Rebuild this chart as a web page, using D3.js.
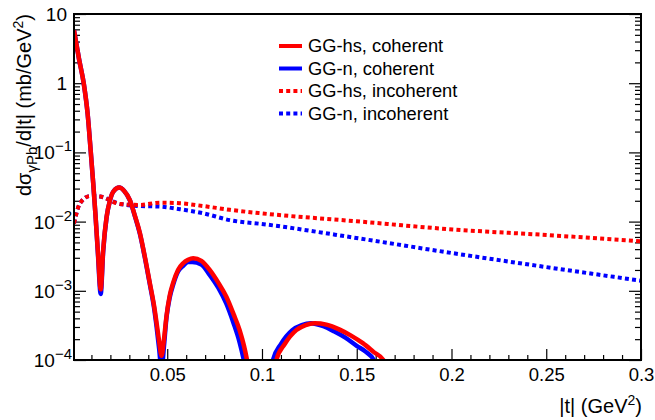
<!DOCTYPE html>
<html>
<head>
<meta charset="utf-8">
<script src="https://cdn.jsdelivr.net/npm/d3@7"></script>
<style>
  body { margin: 0; background: #fff; }
  svg { display: block; }
  text { font-family: "Liberation Sans", Arial, Helvetica, sans-serif; fill: #000; }
</style>
</head>
<body>
<svg id="chart" width="655" height="420"></svg>
<script>
// |t| (GeV^2), dsigma/d|t| (mb/GeV^2)
const redCoherent = [
  [0.0008, 5.8], [0.0035, 2.2], [0.006, 0.97], [0.008, 0.36], [0.0096, 0.106],
  [0.0109, 0.037], [0.0121, 0.0129], [0.0134, 0.0037], [0.0149, 0.00105],
  [0.0162, 0.0039], [0.018, 0.0117], [0.0198, 0.0204], [0.0215, 0.027],
  [0.0247, 0.031], [0.0272, 0.028], [0.0303, 0.0204], [0.033, 0.012],
  [0.0356, 0.0068], [0.038, 0.0033], [0.0408, 0.0013], [0.043, 0.00062],
  [0.0444, 0.00034], [0.0458, 0.00018], [0.047, 0.000115], [0.0482, 0.00019],
  [0.0496, 0.00043], [0.0513, 0.00085], [0.0531, 0.0013], [0.0557, 0.002],
  [0.0584, 0.0025], [0.061, 0.0028], [0.0637, 0.00295], [0.068, 0.0027],
  [0.0724, 0.002], [0.077, 0.0013], [0.0812, 0.00082], [0.085, 0.00046],
  [0.0882, 0.00027], [0.0905, 0.00016], [0.0921, 0.0001], [0.094, 0.00005],
  [0.105, 0.00004], [0.1076, 0.0001], [0.112, 0.00017], [0.1181, 0.00027],
  [0.123, 0.00032], [0.1278, 0.00034], [0.134, 0.000325], [0.141, 0.000275],
  [0.147, 0.000225], [0.1532, 0.000175], [0.159, 0.00013], [0.164, 0.0001],
  [0.167, 0.00006]
];
const blueCoherent = [
  [0.0008, 5.8], [0.0035, 2.2], [0.006, 0.97], [0.008, 0.36], [0.0096, 0.106],
  [0.0109, 0.037], [0.0121, 0.0129], [0.0134, 0.0035], [0.0149, 0.0009],
  [0.0162, 0.0037], [0.018, 0.0115], [0.0198, 0.0202], [0.0215, 0.027],
  [0.0247, 0.031], [0.0272, 0.028], [0.0303, 0.0202], [0.033, 0.0118],
  [0.0356, 0.0066], [0.038, 0.0032], [0.0408, 0.00125], [0.043, 0.00058],
  [0.0444, 0.0003], [0.0458, 0.00014], [0.047, 0.00007], [0.0482, 0.00015],
  [0.0496, 0.00041], [0.0513, 0.0008], [0.0531, 0.00122], [0.0557, 0.0019],
  [0.0584, 0.0023], [0.061, 0.0026], [0.0632, 0.0026], [0.068, 0.0024],
  [0.0724, 0.0017], [0.077, 0.0011], [0.0812, 0.00065], [0.085, 0.00034],
  [0.0882, 0.00018], [0.0904, 0.0001], [0.0925, 0.00005],
  [0.103, 0.00004], [0.1058, 0.0001], [0.11, 0.00017], [0.116, 0.00027],
  [0.121, 0.00032], [0.1258, 0.00034], [0.132, 0.00031], [0.138, 0.00026],
  [0.144, 0.00021], [0.15, 0.00016], [0.155, 0.00013], [0.159, 0.0001],
  [0.162, 0.00006]
];
const redIncoherent = [
  [0.0008, 0.0094], [0.004, 0.0184], [0.0092, 0.0234], [0.0145, 0.023],
  [0.025, 0.018], [0.0356, 0.0174], [0.0461, 0.0188], [0.0567, 0.0184],
  [0.0689, 0.0168], [0.083, 0.0148], [0.1005, 0.0131], [0.15, 0.0101],
  [0.2006, 0.0077], [0.25, 0.0064], [0.3, 0.0052]
];
const blueIncoherent = [
  [0.0008, 0.0094], [0.004, 0.0184], [0.0092, 0.0234], [0.0145, 0.023],
  [0.025, 0.018], [0.0356, 0.0168], [0.0461, 0.0165], [0.0567, 0.0151],
  [0.0689, 0.0132], [0.083, 0.0105], [0.102, 0.0091], [0.1515, 0.0057],
  [0.2006, 0.0035], [0.25, 0.0022], [0.3, 0.0014]
];

const xMajor = [0.05, 0.1, 0.15, 0.2, 0.25, 0.3];
const xLabels = ["0.05", "0.1", "0.15", "0.2", "0.25", "0.3"];
const yMajor = [1e-4, 1e-3, 1e-2, 1e-1, 1, 10];
const yExponents = [-4, -3, -2, -1, 0, 1];

const legendItems = [
  { label: "GG-hs, coherent", color: "#ff0000", dotted: false },
  { label: "GG-n, coherent", color: "#0000ff", dotted: false },
  { label: "GG-hs, incoherent", color: "#ff0000", dotted: true },
  { label: "GG-n, incoherent", color: "#0000ff", dotted: true }
];

const frame = { left: 74, right: 641, top: 14, bottom: 360 };
const svg = d3.select("#chart");

const x = d3.scaleLinear().domain([0.0008, 0.3]).range([frame.left, frame.right]);
const y = d3.scaleLog().domain([1e-4, 10]).range([frame.bottom, frame.top]);

const xMinor = d3.range(1, 30).filter((i) => i % 5 !== 0).map((i) => i / 100);
const yMinor = [];
[-4, -3, -2, -1, 0].forEach((e) => {
  for (let m = 2; m <= 9; m++) yMinor.push(m * Math.pow(10, e));
});

svg.append("defs").append("clipPath").attr("id", "plot-area")
  .append("rect")
  .attr("x", frame.left).attr("y", frame.top)
  .attr("width", frame.right - frame.left)
  .attr("height", frame.bottom - frame.top);

// axes: ticks drawn inward like ROOT
const styleAxis = (g) => {
  g.select(".domain").remove();
  g.selectAll(".tick line").attr("stroke", "#000").attr("stroke-width", 1.2);
};

svg.append("g")
  .attr("transform", `translate(0,${frame.bottom})`)
  .call(d3.axisBottom(x).tickValues(xMinor).tickSize(-5).tickFormat(""))
  .call(styleAxis);

svg.append("g")
  .attr("transform", `translate(0,${frame.bottom})`)
  .call(d3.axisBottom(x).tickValues(xMajor).tickSize(-11).tickPadding(8)
    .tickFormat((d, i) => xLabels[i]))
  .call(styleAxis)
  .call((g) => g.selectAll(".tick text").attr("font-size", 18.5)
    .attr("font-family", '"Liberation Sans", Arial, sans-serif').attr("fill", "#000"));

[[frame.left, d3.axisLeft], [frame.right, d3.axisRight]].forEach(([pos, axisFn]) => {
  svg.append("g")
    .attr("transform", `translate(${pos},0)`)
    .call(axisFn(y).tickValues(yMinor).tickSize(-6).tickFormat(""))
    .call(styleAxis);
  svg.append("g")
    .attr("transform", `translate(${pos},0)`)
    .call(axisFn(y).tickValues(yMajor).tickSize(-12).tickFormat(""))
    .call(styleAxis);
});

// y labels with superscripts
yMajor.forEach((v, i) => {
  const e = yExponents[i];
  const t = svg.append("text")
    .attr("y", y(v) + 7)
    .attr("text-anchor", "end")
    .attr("font-size", 19);
  if (e === 0) {
    t.attr("x", 67).text("1");
  } else if (e === 1) {
    t.attr("x", 67).text("10");
  } else {
    t.attr("x", 72);
    t.append("tspan").text("10");
    t.append("tspan").attr("dy", -8).attr("font-size", 15).text("\u2212" + Math.abs(e));
  }
});

// curves
const line = d3.line()
  .x((d) => x(d[0]))
  .y((d) => y(d[1]))
  .curve(d3.curveMonotoneX);

const curves = svg.append("g").attr("clip-path", "url(#plot-area)");
[
  [blueIncoherent, "#0000ff", true],
  [redIncoherent, "#ff0000", true],
  [blueCoherent, "#0000ff", false],
  [redCoherent, "#ff0000", false]
].forEach(([data, color, dotted]) => {
  curves.append("path")
    .datum(data)
    .attr("d", line)
    .attr("fill", "none")
    .attr("stroke", color)
    .attr("stroke-width", dotted ? 4 : 4.5)
    .attr("stroke-dasharray", dotted ? "4 3.2" : null)
    .attr("stroke-linejoin", "round");
});

// frame
svg.append("rect")
  .attr("x", frame.left).attr("y", frame.top)
  .attr("width", frame.right - frame.left)
  .attr("height", frame.bottom - frame.top)
  .attr("fill", "none").attr("stroke", "#000").attr("stroke-width", 2);

// legend
const legendRows = [46, 68.5, 91, 113.5];
legendItems.forEach((item, i) => {
  const ly = legendRows[i];
  svg.append("line")
    .attr("x1", 279).attr("x2", 302).attr("y1", ly).attr("y2", ly)
    .attr("stroke", item.color).attr("stroke-width", 4)
    .attr("stroke-dasharray", item.dotted ? "4 3.2" : null);
  svg.append("text")
    .attr("x", 308).attr("y", ly + 6.3)
    .attr("font-size", 18.3)
    .text(item.label);
});

// axis titles
const xt = svg.append("text")
  .attr("x", 642).attr("y", 413)
  .attr("text-anchor", "end")
  .attr("font-size", 20);
xt.append("tspan").text("|t| (GeV");
xt.append("tspan").attr("dy", -8).attr("font-size", 14).text("2");
xt.append("tspan").attr("dy", 8).text(")");

const yt = svg.append("text")
  .attr("transform", "translate(31,14) rotate(-90)")
  .attr("text-anchor", "end")
  .attr("font-size", 20);
yt.append("tspan").text("d\u03c3");
yt.append("tspan").attr("dy", 6).attr("font-size", 15).text("\u03b3Pb");
yt.append("tspan").attr("dy", -6).text("/d|t| (mb/GeV");
yt.append("tspan").attr("dy", -8).attr("font-size", 14).text("2");
yt.append("tspan").attr("dy", 8).text(")");
</script>
</body>
</html>
